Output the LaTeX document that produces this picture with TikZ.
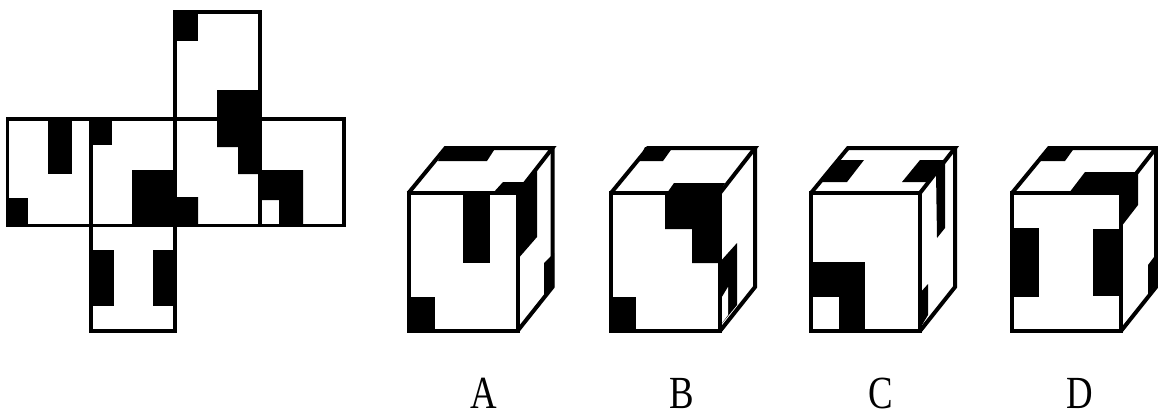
\documentclass[tikz,border=0pt]{standalone}
\usepackage{fontspec}
\setmainfont{Liberation Serif}
\begin{document}
\begin{tikzpicture}[x=1pt, y=-1pt, line width=3.4pt, line join=miter,
    patch/.style={fill=black, draw=none},
    hole/.style={fill=white, draw=none},
    cubeline/.style={line width=4pt},
    letter/.style={font=\fontsize{46}{46}\selectfont, inner sep=0pt, xscale=0.8}]
  \useasboundingbox (0,0) rectangle (1158,416);
  % net: black patches
  \fill[patch] (175,12) rectangle (198,41);
  \fill[patch] (217,90) -- (260,90) -- (260,174) -- (238,174) -- (238,147) -- (217,147) -- cycle;
  \fill[patch] (48,119) rectangle (72,174);
  \fill[patch] (7,198) rectangle (28,226);
  \fill[patch] (91,119) rectangle (112,145);
  \fill[patch] (132,170) -- (175,170) -- (175,197) -- (198,197) -- (198,226) -- (132,226) -- cycle;
  \fill[patch] (260,170) -- (303,170) -- (303,226) -- (279,226) -- (279,200) -- (260,200) -- cycle;
  \fill[patch] (91,250) rectangle (114,306);
  \fill[patch] (153,250) rectangle (175,306);
  % net: faces
  \draw (175,119) -- (175,12) -- (260,12) -- (260,119);
  \draw (7.5,119) rectangle (344,225.5);
  \foreach \x in {91,175,260}
    \draw (\x,119) -- (\x,225.5);
  \draw (91,225.5) -- (91,331) -- (175,331) -- (175,225.5);
  % cube A
  \fill[patch] (445,147) -- (496,147) -- (487,161) -- (438,161) -- cycle;
  \fill[patch] (493,193) -- (503,182) -- (525,182) -- (537,170) -- (537,237) -- (517,260) -- (517,193) -- cycle;
  \fill[patch] (463,193) rectangle (490,263);
  \fill[patch] (408,297) rectangle (435,331);
  \fill[patch] (544,263) -- (554,253) -- (554,287) -- (544,297) -- cycle;
  % cube B
  \fill[patch] (645,147) -- (673,147) -- (663,161) -- (638,161) -- cycle;
  \fill[patch] (667,193) -- (674,183) -- (725,183) -- (719,193) -- (719,263) -- (692,263) -- (692,229) -- (665,229) -- (665,193) -- cycle;
  \fill[patch] (611,297) rectangle (636,331);
  \fill[patch] (719,263) -- (737,243) -- (737,305) -- (719,327) -- cycle;
  \fill[hole] (722,297) -- (728,287) -- (728,315) -- (722,323) -- cycle;
  % cube C
  \fill[patch] (837,160) -- (864,160) -- (847,182) -- (820,182) -- cycle;
  \fill[patch] (920,160) -- (946,160) -- (928,182) -- (902,182) -- cycle;
  \fill[patch] (936,172) -- (945,161) -- (945,228) -- (937,238) -- cycle;
  \fill[patch] (811,262) rectangle (865,331);
  \fill[hole] (811,297) rectangle (839,331);
  \fill[patch] (919,294) -- (928,284) -- (928,315) -- (919,330) -- cycle;
  % cube D
  \fill[patch] (1048,147) -- (1075,147) -- (1065,161) -- (1039,161) -- cycle;
  \fill[patch] (1069,193) -- (1085,172) -- (1138,172) -- (1138,205) -- (1121,227) -- (1121,193) -- cycle;
  \fill[patch] (1012,228) rectangle (1039,297);
  \fill[patch] (1093,229) rectangle (1121,296);
  \fill[patch] (1148,265) -- (1154,257) -- (1154,287) -- (1148,295) -- cycle;
  % cube frames and letters
  \foreach \x/\n/\t/\lx in {408.5/a/A/483.5, 611/b/B/682, 811/c/C/881, 1012/d/D/1080} {
    \draw[cubeline] (\x,193) rectangle ++(109,138);
    \draw[cubeline] (\x,193) -- ++(37,-45) -- ++(107,0) -- ++(-35,45);
    \draw[cubeline] (\x+109,331) -- ++(35,-44) -- ++(0,-139);
    \node[letter] (label\n) at (\lx,393.5) {\t};
  }
\end{tikzpicture}
\end{document}
